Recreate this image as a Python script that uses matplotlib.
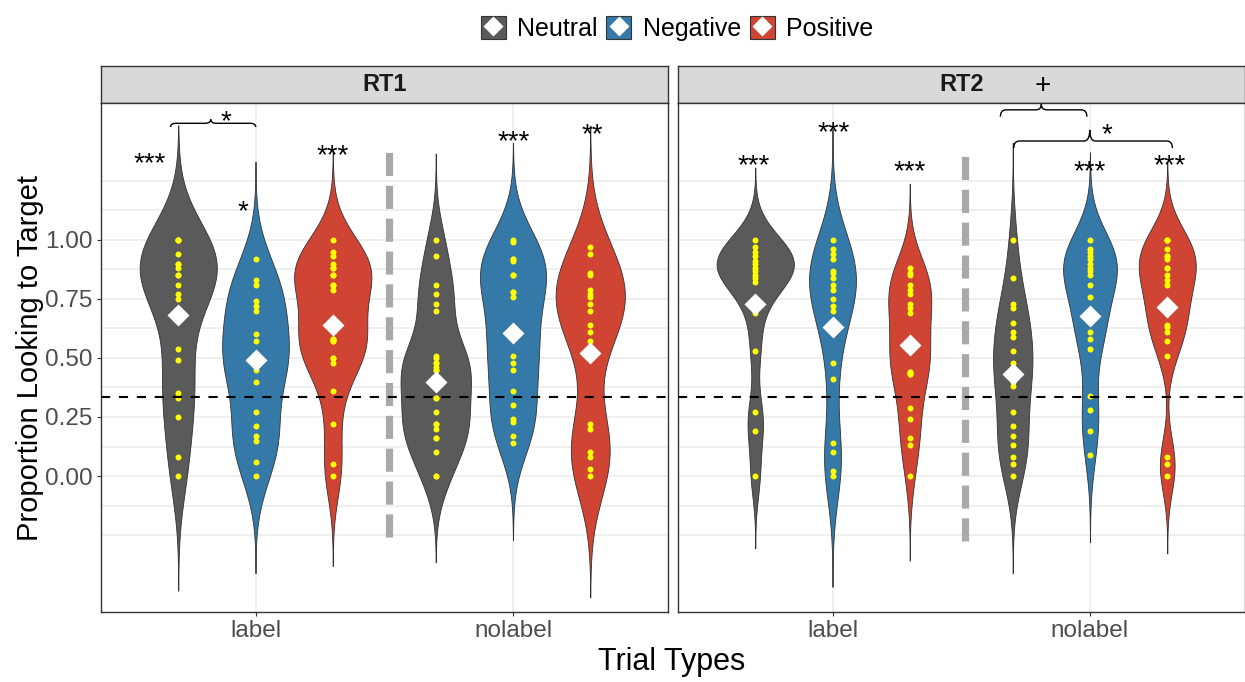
import matplotlib

matplotlib.use("Agg")

import matplotlib.pyplot as plt
import numpy as np
from matplotlib.legend_handler import HandlerTuple
from matplotlib.lines import Line2D
from matplotlib.patches import Patch, PathPatch
from matplotlib.path import Path
from matplotlib.ticker import FixedLocator

# ---- data --------------------------------------------------------------
TRIAL_TYPES = ["label", "nolabel"]
VALENCES = ["Neutral", "Negative", "Positive"]
PANELS = ["RT1", "RT2"]
CHANCE = 1 / 3

# yellow dots: proportion looking to target per child (repeats overlap)
RT1_LABEL_NEUTRAL = [1.0, 1.0, 1.0, 0.94, 0.90, 0.90, 0.88, 0.85, 0.85, 0.81,
                     0.77, 0.75, 0.54, 0.49, 0.35, 0.33, 0.25, 0.08, 0.0]
RT1_LABEL_NEGATIVE = [0.92, 0.83, 0.81, 0.74, 0.72, 0.70, 0.60, 0.57, 0.50,
                      0.49, 0.48, 0.45, 0.40, 0.27, 0.21, 0.17, 0.15, 0.06, 0.0]
RT1_LABEL_POSITIVE = [1.0, 0.95, 0.93, 0.90, 0.88, 0.88, 0.85, 0.85, 0.81,
                      0.81, 0.79, 0.65, 0.63, 0.58, 0.58, 0.57, 0.57, 0.50,
                      0.50, 0.48, 0.36, 0.22, 0.05, 0.0]
RT1_NOLABEL_NEUTRAL = [1.0, 0.93, 0.81, 0.77, 0.73, 0.70, 0.51, 0.50, 0.48,
                       0.48, 0.46, 0.45, 0.45, 0.33, 0.33, 0.27, 0.22, 0.22,
                       0.20, 0.16, 0.16, 0.10, 0.0, 0.0]
RT1_NOLABEL_NEGATIVE = [1.0, 0.99, 0.92, 0.92, 0.91, 0.85, 0.85, 0.78, 0.78,
                        0.76, 0.62, 0.60, 0.58, 0.51, 0.48, 0.45, 0.36, 0.30,
                        0.24, 0.23, 0.17, 0.14]
RT1_NOLABEL_POSITIVE = [0.97, 0.94, 0.86, 0.85, 0.79, 0.77, 0.76, 0.73, 0.70,
                        0.64, 0.61, 0.57, 0.22, 0.20, 0.10, 0.08, 0.03, 0.0]

RT2_LABEL_NEUTRAL = [1.0, 0.97, 0.95, 0.93, 0.91, 0.90, 0.88, 0.87, 0.85,
                     0.84, 0.82, 0.69, 0.53, 0.27, 0.19, 0.0]
RT2_LABEL_NEGATIVE = [1.0, 0.96, 0.94, 0.92, 0.87, 0.86, 0.84, 0.81, 0.79,
                      0.75, 0.72, 0.70, 0.65, 0.48, 0.41, 0.14, 0.10, 0.02,
                      0.0]
RT2_LABEL_POSITIVE = [0.88, 0.86, 0.85, 0.81, 0.79, 0.77, 0.73, 0.71, 0.69,
                      0.58, 0.56, 0.55, 0.53, 0.44, 0.44, 0.43, 0.43, 0.29,
                      0.24, 0.16, 0.13, 0.0]
RT2_NOLABEL_NEUTRAL = [1.0, 0.84, 0.73, 0.71, 0.65, 0.61, 0.59, 0.53, 0.48,
                       0.45, 0.43, 0.40, 0.38, 0.27, 0.21, 0.17, 0.13, 0.08,
                       0.05, 0.0]
RT2_NOLABEL_NEGATIVE = [1.0, 0.96, 0.95, 0.93, 0.92, 0.90, 0.88, 0.87, 0.85,
                        0.81, 0.76, 0.68, 0.68, 0.61, 0.58, 0.54, 0.34, 0.28,
                        0.19, 0.09]
RT2_NOLABEL_POSITIVE = [1.0, 1.0, 1.0, 0.96, 0.93, 0.93, 0.92, 0.88, 0.88,
                        0.85, 0.83, 0.81, 0.74, 0.72, 0.70, 0.64, 0.63, 0.61,
                        0.57, 0.51, 0.08, 0.05, 0.0]

# white diamonds: group means (Neutral, Negative, Positive)
RT1_MEANS_LABEL = [0.68, 0.49, 0.64]
RT1_MEANS_NOLABEL = [0.40, 0.605, 0.523]
RT2_MEANS_LABEL = [0.727, 0.63, 0.555]
RT2_MEANS_NOLABEL = [0.431, 0.679, 0.718]

# ---- style -------------------------------------------------------------
FILL_COLORS = ["#5A5A5A", "#3579A8", "#D04434"]
OUTLINE = "#333333"
DOT_COLOR = "#FFFF00"
GRID_COLOR = "#EBEBEB"
STRIP_FILL = "#D9D9D9"
TICK_TEXT = "#4D4D4D"
DIVIDER = "#A9A9A9"
FONT = ["Liberation Sans", "DejaVu Sans"]

W, H = 1245, 682
DODGE = 0.3
YLIM = (-0.576, 1.58)
XLIM = (0.4, 2.6)

# significance marks: (x, y of glyph centre, text)
MARKS = {
    "RT1": [(0.59, 1.36, "***"), (0.951, 1.157, "*"), (1.30, 1.394, "***"),
            (2.003, 1.453, "***"), (2.309, 1.483, "**"), (0.885, 1.539, "*")],
    "RT2": [(0.695, 1.352, "***"), (1.005, 1.492, "***"), (1.30, 1.326, "***"),
            (1.999, 1.326, "***"), (2.309, 1.352, "***"), (1.816, 1.664, "+"),
            (2.067, 1.484, "*")],
}
# braces: (x left, x right, x peak, y ends, y bar, y peak)
BRACES = {
    "RT1": [(0.670, 1.001, 0.826, 1.478, 1.494, 1.511)],
    "RT2": [(1.652, 1.988, 1.811, 1.522, 1.551, 1.575),
            (1.704, 2.320, 1.999, 1.389, 1.419, 1.466)],
}
DIVIDER_SPAN = {"RT1": (1.52, -0.26, 1.40), "RT2": (1.515, -0.275, 1.38)}


def violin_density(values, n=512, cut=3):
    v = np.asarray(values, dtype=float)
    sd = v.std(ddof=1)
    q75, q25 = np.percentile(v, [75, 25])
    spread = min(sd, (q75 - q25) / 1.34)
    if spread <= 0:
        spread = sd
    bw = 0.9 * spread * len(v) ** -0.2
    grid = np.linspace(v.min() - cut * bw, v.max() + cut * bw, n)
    z = (grid[:, None] - v[None, :]) / bw
    dens = np.exp(-0.5 * z**2).sum(axis=1) / (len(v) * bw * np.sqrt(2 * np.pi))
    return grid, dens


def brace_path(x0, x1, xp, y_end, y_bar, y_peak, dx=0.022):
    verts = [
        (x0, y_end), (x0, y_bar), (x0 + dx, y_bar),
        (xp - dx, y_bar),
        (xp, y_bar), (xp, y_peak),
        (xp, y_bar), (xp + dx, y_bar),
        (x1 - dx, y_bar),
        (x1, y_bar), (x1, y_end),
    ]
    codes = [Path.MOVETO, Path.CURVE3, Path.CURVE3, Path.LINETO,
             Path.CURVE3, Path.CURVE3, Path.CURVE3, Path.CURVE3,
             Path.LINETO, Path.CURVE3, Path.CURVE3]
    return Path(verts, codes)


def draw_panel(ax, name, groups, means):
    densities = []
    for trial in TRIAL_TYPES:
        for v_idx in range(len(VALENCES)):
            densities.append(violin_density(groups[trial][v_idx]))
    dmax = max(d.max() for _, d in densities)

    k = 0
    for t_idx, trial in enumerate(TRIAL_TYPES):
        for v_idx, color in enumerate(FILL_COLORS):
            xc = t_idx + 1 + (v_idx - 1) * DODGE
            grid, dens = densities[k]
            k += 1
            half = dens / dmax * DODGE / 2
            ax.fill_betweenx(grid, xc - half, xc + half, facecolor=color,
                             edgecolor=OUTLINE, linewidth=0.6, zorder=3)
            vals = groups[trial][v_idx]
            ax.plot(np.full(len(vals), xc), vals, "o", color=DOT_COLOR,
                    ms=4.3, mec="none", zorder=4)
        xs = [t_idx + 1 + (v - 1) * DODGE for v in range(len(VALENCES))]
        ax.plot(xs, means[trial], "D", color="white", ms=11, mec="none", zorder=5)

    ax.axhline(CHANCE, color="black", linewidth=1.5, dashes=(4.4, 4.2), zorder=6)
    xd, y0, y1 = DIVIDER_SPAN[name]
    ax.plot([xd, xd], [y0, y1], color=DIVIDER, linewidth=5.2,
            dashes=(3.2, 1.35), solid_capstyle="butt", zorder=2)

    for x, y, txt in MARKS[name]:
        fs = 20
        lift = 0.58 if "*" in txt else 0.36
        ax.annotate(txt, (x, y), xytext=(0, -lift * fs), textcoords="offset points",
                    ha="center", va="baseline", fontsize=fs, family=FONT,
                    color="black", annotation_clip=False, zorder=7)
    for b in BRACES[name]:
        ax.add_patch(PathPatch(brace_path(*b), facecolor="none", edgecolor="black",
                               linewidth=1.0, zorder=7, clip_on=False))

    ax.set_xlim(*XLIM)
    ax.set_ylim(*YLIM)
    ax.set_xticks([1, 2])
    ax.set_xticklabels(TRIAL_TYPES)
    ax.set_yticks([0, 0.25, 0.5, 0.75, 1.0])
    ax.yaxis.set_minor_locator(FixedLocator(np.arange(-0.25, 1.26, 0.125)))
    ax.grid(True, which="major", color=GRID_COLOR, linewidth=1.1, zorder=0)
    ax.grid(True, which="minor", axis="y", color=GRID_COLOR, linewidth=1.1, zorder=0)
    ax.set_axisbelow(True)
    ax.tick_params(which="minor", length=0)
    ax.tick_params(which="major", length=3, width=0.8, color=OUTLINE, pad=3,
                   labelsize=17.5, labelcolor=TICK_TEXT)
    for lab in ax.get_xticklabels() + ax.get_yticklabels():
        lab.set_family(FONT)
    for spine in ax.spines.values():
        spine.set_color(OUTLINE)
        spine.set_linewidth(1.0)


def main():
    fig = plt.figure(figsize=(W / 100, H / 100), dpi=100)
    fig.patch.set_facecolor("white")

    panel_groups = {
        "RT1": {"label": [RT1_LABEL_NEUTRAL, RT1_LABEL_NEGATIVE, RT1_LABEL_POSITIVE],
                "nolabel": [RT1_NOLABEL_NEUTRAL, RT1_NOLABEL_NEGATIVE, RT1_NOLABEL_POSITIVE]},
        "RT2": {"label": [RT2_LABEL_NEUTRAL, RT2_LABEL_NEGATIVE, RT2_LABEL_POSITIVE],
                "nolabel": [RT2_NOLABEL_NEUTRAL, RT2_NOLABEL_NEGATIVE, RT2_NOLABEL_POSITIVE]},
    }
    panel_means = {
        "RT1": {"label": RT1_MEANS_LABEL, "nolabel": RT1_MEANS_NOLABEL},
        "RT2": {"label": RT2_MEANS_LABEL, "nolabel": RT2_MEANS_NOLABEL},
    }

    lefts = [101, 678]
    pw, top, bottom, strip_h = 566.5, 103, 612, 37
    for name, left in zip(PANELS, lefts):
        ax = fig.add_axes([left / W, (H - bottom) / H, pw / W, (bottom - top) / H])
        draw_panel(ax, name, panel_groups[name], panel_means[name])
        if name != "RT1":
            ax.tick_params(axis="y", which="both", left=False, labelleft=False)

        strip = fig.add_axes([left / W, (H - top) / H, pw / W, strip_h / H])
        strip.set_facecolor(STRIP_FILL)
        strip.set_xticks([])
        strip.set_yticks([])
        for spine in strip.spines.values():
            spine.set_color(OUTLINE)
            spine.set_linewidth(1.0)
        strip.text(0.5, 0.5, name, ha="center", va="center", fontsize=17,
                   fontweight="bold", family=FONT, color="#1A1A1A",
                   transform=strip.transAxes)
        strip.set_zorder(0)
        ax.set_zorder(1)

    fig.text(30 / W, 1 - 358 / H, "Proportion Looking to Target", rotation=90,
             ha="center", va="center", fontsize=21, family=FONT)
    fig.text(672 / W, 1 - 662 / H, "Trial Types", ha="center", va="center",
             fontsize=22, family=FONT)

    handles = [
        (Patch(facecolor=c, edgecolor=OUTLINE, linewidth=0.8),
         Line2D([], [], marker="D", ls="", color="white", ms=10.5, mec="none"))
        for c in FILL_COLORS
    ]
    fig.legend(handles, VALENCES, loc="center",
               bbox_to_anchor=(677 / W, 1 - 28.5 / H), ncol=3,
               frameon=False, handlelength=1.0, handleheight=1.0,
               handletextpad=0.45, columnspacing=0.35, borderaxespad=0,
               handler_map={tuple: HandlerTuple(ndivide=1, pad=0)},
               prop={"family": FONT, "size": 18})

    fig.savefig("out.png", dpi=100)
    plt.close(fig)


if __name__ == "__main__":
    main()
